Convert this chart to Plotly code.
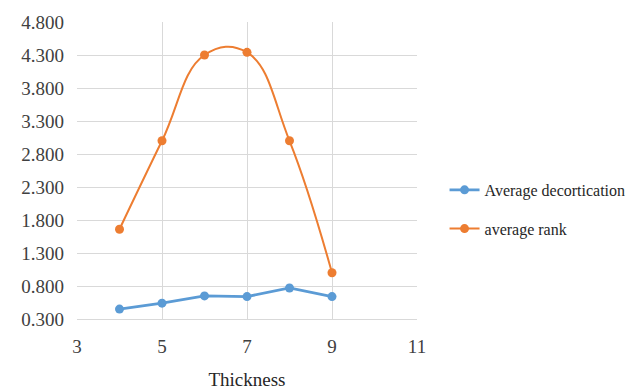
import plotly.graph_objects as go

thickness = [4, 5, 6, 7, 8, 9]
avg_decortication = [0.45, 0.54, 0.65, 0.64, 0.77, 0.64]
avg_rank = [1.66, 3.0, 4.3, 4.34, 3.0, 1.0]

FONT = "Times New Roman, Liberation Serif, serif"
fig = go.Figure()
fig.add_trace(go.Scatter(
    x=thickness, y=avg_decortication, mode="lines+markers",
    name="Average decortication", legendgroup="a",
    line=dict(color="#5B9BD5", width=2.8),
    marker=dict(color="#5B9BD5", size=9),
))
fig.add_trace(go.Scatter(
    x=thickness, y=avg_rank, mode="lines+markers",
    name="average rank", legendgroup="b",
    line=dict(color="#ED7D31", width=2, shape="spline", smoothing=1.2),
    marker=dict(color="#ED7D31", size=9),
))
tickfont = dict(family=FONT, size=19, color="#404040")
fig.update_layout(
    width=644, height=392,
    margin=dict(l=77, r=227, t=22, b=73),
    paper_bgcolor="white", plot_bgcolor="white",
    font=dict(family=FONT, size=17, color="#404040"),
    legend=dict(x=1.081, y=0.369, xanchor="left", yanchor="middle",
                font=dict(family=FONT, size=16, color="#262626"),
                tracegroupgap=15, itemwidth=30, borderwidth=0),
    xaxis=dict(range=[3, 11], tick0=3, dtick=2, showgrid=True,
               gridcolor="#D9D9D9", gridwidth=1, zeroline=False,
               showline=True, linecolor="#D9D9D9", tickfont=tickfont,
               automargin=False,
               title=dict(text="Thickness", font=dict(family=FONT, size=19, color="#262626"), standoff=16),
               ticks="", ticklabelstandoff=10),
    yaxis=dict(range=[0.3, 4.8], tick0=0.3, dtick=0.5, tickformat=".3f",
               showgrid=True, gridcolor="#D9D9D9", gridwidth=1, zeroline=False,
               tickfont=tickfont, automargin=False,
               showline=False, ticks="", ticklabelstandoff=12),
)
fig.write_html("out.html")
